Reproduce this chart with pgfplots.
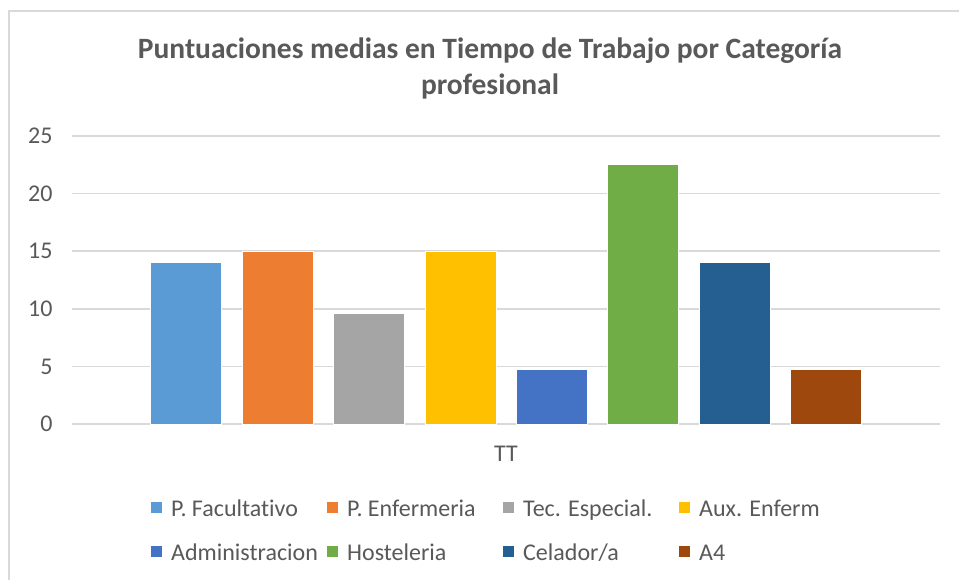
\documentclass[border=0pt]{standalone}
\usepackage{pgfplots}
\pgfplotsset{compat=1.18}
\usepackage{fontspec}
\setmainfont{Carlito}[Ligatures=NoCommon]
\definecolor{txt}{HTML}{595959}
\definecolor{gridc}{HTML}{D9D9D9}
\definecolor{c1}{HTML}{5B9BD5}
\definecolor{c2}{HTML}{ED7D31}
\definecolor{c3}{HTML}{A5A5A5}
\definecolor{c4}{HTML}{FFC000}
\definecolor{c5}{HTML}{4472C4}
\definecolor{c6}{HTML}{70AD47}
\definecolor{c7}{HTML}{255E91}
\definecolor{c8}{HTML}{9E480E}
\newcommand{\legtxt}[1]{\makebox[165pt][l]{\strut\hspace{9pt}#1}}
\begin{document}
\begin{tikzpicture}
\useasboundingbox (0pt,0pt) rectangle (959pt,-580pt);
\fill[white] (0pt,0pt) rectangle (959pt,-580pt);
\draw[gridc, line width=2pt] (9pt,-580pt) -- (9pt,-11pt) -- (959pt,-11pt);
\node[text=txt, font=\fontsize{29.5}{34}\selectfont\bfseries, anchor=base] at (490pt,-59pt) {Puntuaciones medias en Tiempo de Trabajo por Categoría};
\node[text=txt, font=\fontsize{29.5}{34}\selectfont\bfseries, anchor=base] at (490pt,-95pt) {profesional};
\begin{axis}[
  at={(72pt,-424pt)}, anchor=south west,
  scale only axis, width=868pt, height=288pt,
  xmin=-0.5, xmax=0.5, ymin=0, ymax=25,
  ytick={0,5,10,15,20,25}, xtick={0}, xticklabels={TT},
  ymajorgrids, grid style={gridc, line width=1.6pt},
  axis line style={draw=none}, major tick length=0pt,
  ybar=20.4pt, bar width=71pt,
  tick label style={text=txt, font=\fontsize{24}{28}\selectfont},
  yticklabel style={xshift=-16pt},
  xticklabel style={yshift=-19pt},
  /pgf/number format/assume math mode=true,
  legend columns=4,
  legend cell align=left,
  legend style={at={(0.091,-0.2535)}, anchor=north west, draw=none, fill=none,
    inner sep=0pt, row sep=23pt, column sep=0pt,
    nodes={inner sep=0pt, text=txt, font=\fontsize{24}{28}\selectfont}},
  legend image code/.code={\fill[#1,draw=none] (0pt,-5.5pt) rectangle (11pt,5.5pt);},
  every axis plot/.append style={draw=white, line width=0.6pt},
]
\addplot[fill=c1] coordinates {(0,14)};
\addplot[fill=c2] coordinates {(0,15)};
\addplot[fill=c3] coordinates {(0,9.65)};
\addplot[fill=c4] coordinates {(0,15)};
\addplot[fill=c5] coordinates {(0,4.75)};
\addplot[fill=c6] coordinates {(0,22.55)};
\addplot[fill=c7] coordinates {(0,14)};
\addplot[fill=c8] coordinates {(0,4.75)};
\legend{\legtxt{P. Facultativo},\legtxt{P. Enfermeria},\legtxt{Tec. Especial.},\legtxt{Aux. Enferm},\legtxt{Administracion},\legtxt{Hosteleria},\legtxt{Celador/a},\legtxt{A4}}
\end{axis}
\end{tikzpicture}
\end{document}
